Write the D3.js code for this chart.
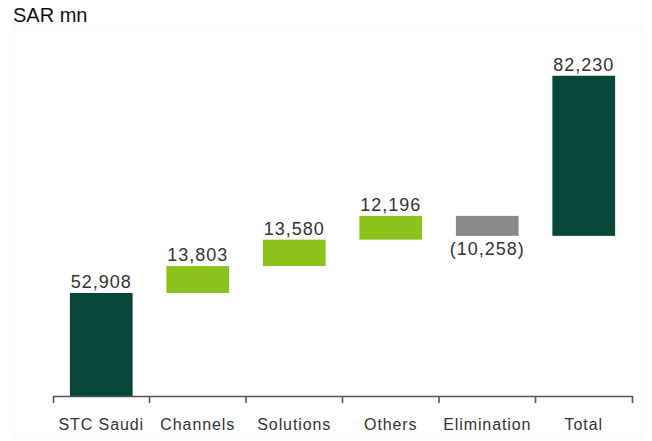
<!DOCTYPE html>
<html>
<head>
<meta charset="utf-8">
<script src="https://cdn.jsdelivr.net/npm/d3@7"></script>
<style>
    body { margin: 0; background: #fff; }
    text { font-family: Arial, "Liberation Sans", sans-serif; }
</style>
</head>
<body>
<div id="chart"></div>
<script>
// waterfall data, SAR mn
var categories = ["STC Saudi", "Channels", "Solutions", "Others", "Elimination", "Total"];
var values = [52908, 13803, 13580, 12196, -10258, 82230];
var labels = ["52,908", "13,803", "13,580", "12,196", "(10,258)", "82,230"];
var kinds = ["total", "up", "up", "up", "down", "total"];

var svgWidth = 652, svgHeight = 441;

var svg = d3.select("#chart").append("svg")
    .attr("width", svgWidth)
    .attr("height", svgHeight);

// faint frame round the plot
svg.append("rect")
    .attr("x", 13.5).attr("y", 28.5)
    .attr("width", 629).attr("height", 408)
    .attr("fill", "none")
    .attr("stroke", "#f6f6f6");

svg.append("text")
    .attr("x", 13).attr("y", 22)
    .attr("font-size", 20)
    .attr("fill", "#111")
    .text("SAR mn");

var x = d3.scaleBand()
    .domain(categories)
    .range([53, 632])
    .paddingInner(0.35)
    .paddingOuter(0.175);

var y = d3.scaleLinear()
    .domain([0, 190000])
    .range([396, 26]);

// build running start/end of each step
// (the total bar in the original is stacked on the running sum, keep it that way)
var steps = [];
var run = 0;
for (var i = 0; i < values.length; i++) {
    var start = run;
    var end = run + values[i];
    steps.push({cat: categories[i], start: start, end: end, label: labels[i], kind: kinds[i]});
    run = end;
}

var colors = {total: "#06473a", up: "#8cc21c", down: "#8a8a8a"};

svg.selectAll("rect.bar")
    .data(steps)
    .enter()
    .append("rect")
    .attr("class", "bar")
    .attr("x", function (d) { return x(d.cat); })
    .attr("width", x.bandwidth())
    .attr("y", function (d) { return y(Math.max(d.start, d.end)); })
    .attr("height", function (d) { return Math.abs(y(d.start) - y(d.end)); })
    .attr("fill", function (d) { return colors[d.kind]; });

svg.selectAll("text.val")
    .data(steps)
    .enter()
    .append("text")
    .attr("class", "val")
    .attr("x", function (d) { return x(d.cat) + x.bandwidth() / 2; })
    .attr("y", function (d) {
        if (d.end < d.start) return y(d.end) + 19;
        return y(d.end) - 5;
    })
    .attr("text-anchor", "middle")
    .attr("font-size", 18)
    .attr("letter-spacing", 1)
    .attr("fill", "#333")
    .text(function (d) { return d.label; });

// axis: labels centred on the bands, ticks on the band boundaries
var axis = svg.append("g")
    .attr("transform", "translate(0,396)")
    .call(d3.axisBottom(x).tickSize(0).tickSizeOuter(7).tickPadding(23));

axis.select(".domain")
    .attr("stroke", "#555")
    .attr("stroke-width", 1.6);

axis.selectAll(".tick text")
    .attr("font-size", 16)
    .attr("letter-spacing", 0.9)
    .attr("fill", "#333");

var gap = x.step() * x.paddingInner() / 2;
axis.selectAll("line.sep")
    .data(categories.slice(1))
    .enter()
    .append("line")
    .attr("class", "sep")
    .attr("x1", function (d) { return x(d) - gap; })
    .attr("x2", function (d) { return x(d) - gap; })
    .attr("y1", 0)
    .attr("y2", 7)
    .attr("stroke", "#555")
    .attr("stroke-width", 1.6);
</script>
</body>
</html>
